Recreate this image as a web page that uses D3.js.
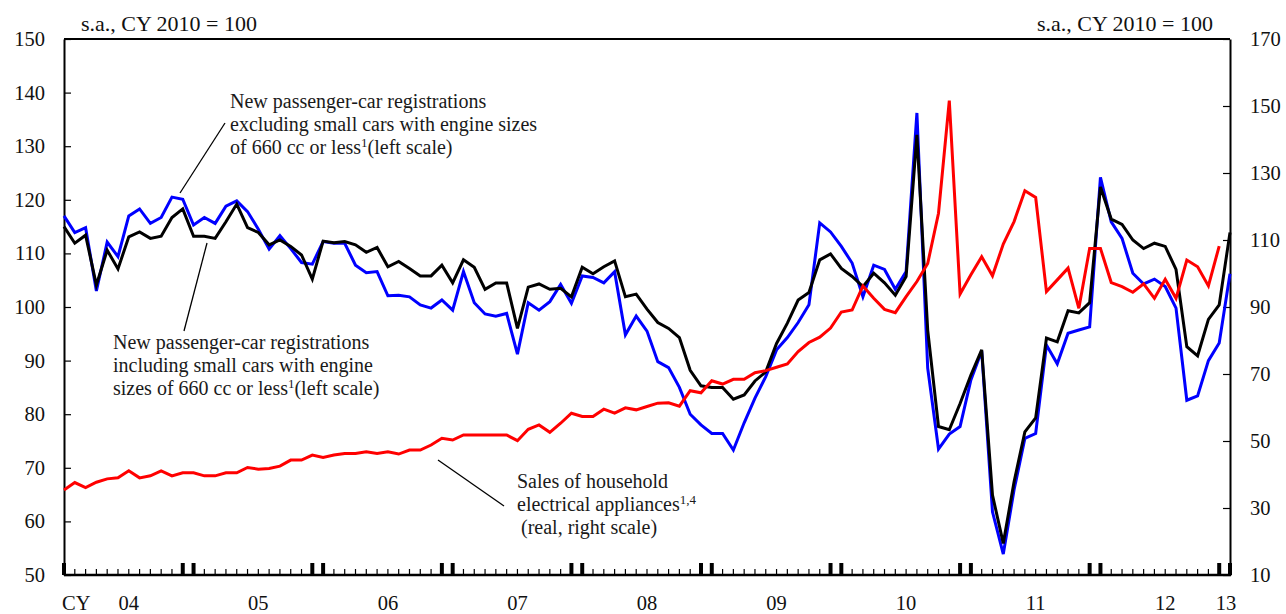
<!DOCTYPE html>
<html>
<head>
<meta charset="utf-8">
<script src="https://cdn.jsdelivr.net/npm/d3@7"></script>
<style>
  body { margin: 0; background: #fff; }
  svg { display: block; font-family: "Liberation Serif", "Times New Roman", serif; }
  .note { fill: #1a1a1a; font-size: 20px; }
</style>
</head>
<body>
<div id="chart"></div>
<script>
// monthly, Jan 2004 .. Jan 2013 (left scale)
var excludingSmall = [117.0,113.9,114.8,103.0,112.1,109.4,117.0,118.3,115.6,116.7,120.5,120.1,
  115.3,116.7,115.6,118.8,119.8,117.8,114.5,110.8,113.3,110.9,108.3,108.0,
  112.2,111.9,111.9,107.8,106.4,106.6,102.1,102.2,101.9,100.4,99.8,101.3,
  99.4,106.6,100.8,98.7,98.3,98.8,91.2,100.8,99.4,101.0,104.2,100.7,
  105.8,105.5,104.5,106.6,94.8,98.3,95.5,89.8,88.7,85.0,80.0,78.0,
  76.4,76.4,73.3,78.4,83.0,87.0,92.0,94.3,97.1,100.4,115.7,114.0,
  111.3,108.2,101.9,107.8,107.0,103.3,106.6,136.2,88.6,73.5,76.3,77.7,
  86.4,91.8,61.8,53.9,65.9,75.5,76.4,92.9,89.4,95.1,95.7,96.3,
  124.2,115.9,112.8,106.3,104.3,105.2,103.8,99.8,82.6,83.4,90.0,93.3,
  106.2];
var includingSmall = [115.0,111.9,113.4,104.1,110.6,107.1,113.1,114.0,112.8,113.2,116.7,118.3,
  113.2,113.2,112.8,115.9,119.2,114.8,113.9,111.6,112.5,111.3,109.7,105.2,
  112.3,112.0,112.2,111.6,110.2,111.1,107.5,108.5,107.2,105.8,105.8,107.8,
  104.5,108.8,107.4,103.3,104.5,104.5,96.0,103.7,104.3,103.3,103.5,101.9,
  107.4,106.2,107.5,108.6,101.9,102.4,99.6,97.1,96.0,94.3,88.2,85.3,
  85.0,85.0,82.8,83.6,86.2,87.9,93.2,97.0,101.3,102.7,108.8,109.9,
  107.2,105.7,103.8,106.3,104.5,102.2,105.7,132.1,95.7,77.7,77.1,82.0,
  87.3,92.0,64.9,55.9,67.4,76.7,79.3,94.2,93.5,99.3,98.9,100.8,
  122.4,116.4,115.4,112.5,110.9,111.9,111.3,107.0,92.6,90.9,97.7,100.4,
  113.9];
// monthly, Jan 2004 .. Dec 2012 (right scale)
var appliances = [35.4,37.6,36.1,37.7,38.7,39.0,41.1,39.0,39.6,41.1,39.6,40.5,
  40.5,39.6,39.6,40.5,40.5,42.1,41.6,41.8,42.5,44.3,44.3,45.8,
  45.1,45.8,46.3,46.3,46.8,46.3,46.8,46.1,47.3,47.3,48.8,50.8,
  50.3,51.8,51.8,51.8,51.8,51.8,50.1,53.5,54.8,52.6,55.3,58.3,
  57.3,57.3,59.5,58.3,59.9,59.3,60.3,61.3,61.4,60.4,65.0,64.4,
  68.0,67.0,68.4,68.4,70.4,71.0,72.0,73.0,76.7,79.4,81.0,83.7,
  88.5,89.1,96.3,92.6,89.3,88.3,93.1,97.6,103.0,118.0,151.6,93.9,
  99.6,105.0,99.3,108.8,115.5,124.7,122.7,94.6,98.1,101.6,89.6,107.5,
  107.5,97.3,96.1,94.4,96.9,92.6,98.3,92.6,104.0,102.0,96.3,108.2];

var leftTicks = [50,60,70,80,90,100,110,120,130,140,150];
var rightTicks = [10,30,50,70,90,110,130,150,170];
var yearLabels = ["04","05","06","07","08","09","10","11","12","13"];

var W = 1286, H = 614;
var svg = d3.select("#chart").append("svg").attr("width", W).attr("height", H);

var x = d3.scaleLinear().domain([0, 108]).range([64, 1230]);
var yL = d3.scaleLinear().domain([50, 150]).range([575, 39]);
var yR = d3.scaleLinear().domain([10, 170]).range([575, 39]);

// frame top
svg.append("line").attr("x1", 64).attr("x2", 1230).attr("y1", 39).attr("y2", 39)
  .attr("stroke", "#000").attr("stroke-width", 2);

var axL = svg.append("g").attr("transform", "translate(64,0)")
  .call(d3.axisLeft(yL).tickValues(leftTicks).tickSizeInner(-7).tickSizeOuter(0).tickPadding(19));
var axR = svg.append("g").attr("transform", "translate(1230,0)")
  .call(d3.axisRight(yR).tickValues(rightTicks).tickSizeInner(-7).tickSizeOuter(0).tickPadding(20));
[axL, axR].forEach(function(a) {
  a.select(".domain").attr("stroke-width", 2);
  a.selectAll(".tick line").attr("stroke-width", 1.2);
  a.selectAll("text").attr("font-family", "Liberation Serif").attr("font-size", 20.5).attr("fill", "#111");
});

// bottom axis with monthly ticks, thick ones around the year change
svg.append("line").attr("x1", 64).attr("x2", 1231).attr("y1", 575).attr("y2", 575)
  .attr("stroke", "#000").attr("stroke-width", 2.5);
var months = d3.range(0, 109);
svg.append("g").selectAll("line").data(months).enter().append("line")
  .attr("x1", function(d) { return x(d); })
  .attr("x2", function(d) { return x(d); })
  .attr("y1", 575)
  .attr("y2", function(d) { return (d % 12 == 0 || d % 12 == 11) ? 563 : 569; })
  .attr("stroke", "#000")
  .attr("stroke-width", function(d) { return (d % 12 == 0 || d % 12 == 11) ? 4 : 1.2; });

svg.append("g").selectAll("text").data(yearLabels).enter().append("text")
  .attr("x", function(d, i) { return i == 9 ? x(108) - 4 : x(12 * i + 6); })
  .attr("y", 610)
  .attr("text-anchor", "middle")
  .attr("font-size", 20.5).attr("fill", "#111")
  .text(function(d) { return d; });
svg.append("text").attr("x", 62).attr("y", 610).attr("font-size", 20.5).attr("fill", "#111").text("CY");

// headers
svg.append("text").attr("x", 81).attr("y", 31).attr("font-size", 22).attr("fill", "#111").text("s.a., CY 2010 = 100");
svg.append("text").attr("x", 1213).attr("y", 31).attr("text-anchor", "end").attr("font-size", 22).attr("fill", "#111").text("s.a., CY 2010 = 100");

// series
var lineL = d3.line().x(function(d, i) { return x(i); }).y(function(d) { return yL(d); });
var lineR = d3.line().x(function(d, i) { return x(i); }).y(function(d) { return yR(d); });
svg.append("path").datum(excludingSmall).attr("d", lineL).attr("fill", "none").attr("stroke", "#0000ff").attr("stroke-width", 3);
svg.append("path").datum(includingSmall).attr("d", lineL).attr("fill", "none").attr("stroke", "#000").attr("stroke-width", 3);
svg.append("path").datum(appliances).attr("d", lineR).attr("fill", "none").attr("stroke", "#ff0000").attr("stroke-width", 3);

// annotations
function note(lines, x0, y0, dy) {
  var t = svg.append("text").attr("class", "note");
  lines.forEach(function(l, i) {
    var ts = t.append("tspan").attr("x", x0 + (l.dx || 0)).attr("y", y0 + i * dy);
    ts.append("tspan").text(l.a);
    if (l.sup) ts.append("tspan").attr("dy", -7).attr("font-size", 13).text(l.sup);
    if (l.b) ts.append("tspan").attr("dy", l.sup ? 7 : 0).text(l.b);
  });
}
note([{a: "New passenger-car registrations"},
      {a: "excluding small cars with engine sizes"},
      {a: "of 660 cc or less", sup: "1", b: "(left scale)"}], 230, 108, 23);
note([{a: "New passenger-car registrations"},
      {a: "including small cars with engine"},
      {a: "sizes of 660 cc or less", sup: "1", b: "(left scale)"}], 113, 349, 23);
note([{a: "Sales of household"},
      {a: "electrical appliances", sup: "1,4"},
      {a: "(real, right scale)", dx: 4}], 517, 488, 23);

var leaders = [[225, 123, 180, 193], [207, 243, 184, 331], [438, 460, 504, 506]];
svg.append("g").selectAll("line").data(leaders).enter().append("line")
  .attr("x1", function(d) { return d[0]; }).attr("y1", function(d) { return d[1]; })
  .attr("x2", function(d) { return d[2]; }).attr("y2", function(d) { return d[3]; })
  .attr("stroke", "#000").attr("stroke-width", 1.3);
</script>
</body>
</html>
